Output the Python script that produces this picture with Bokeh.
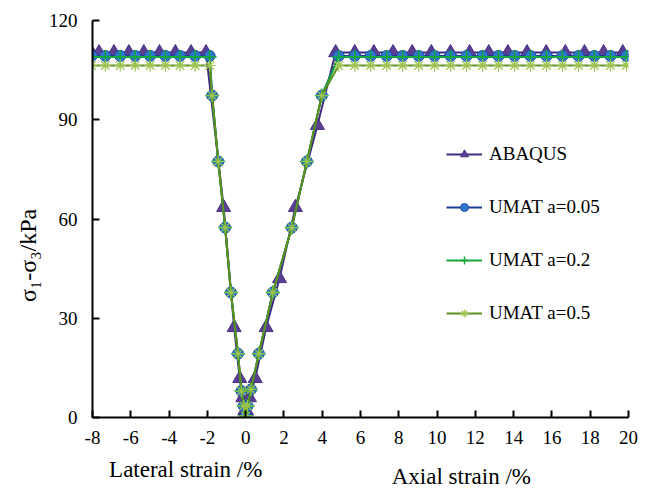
import math
from bokeh.plotting import figure
from bokeh.models import Range1d, Legend, LegendItem, FixedTicker
from bokeh.layouts import column, row
from bokeh.core.properties import value
from bokeh.embed import file_html
from bokeh.resources import INLINE

# ---- data ----
x_abaqus = [-8.05, -7.66, -6.88, -6.10, -5.32, -4.50, -3.67, -2.85, -2.07,
            -1.15, -0.60, -0.31, -0.15, -0.05, 0.0, 0.05, 0.20, 0.50, 1.07,
            1.77, 2.60, 3.75,
            4.7, 5.7, 6.7, 7.7, 8.7, 9.7, 10.7, 11.7, 12.7, 13.7, 14.7, 15.7,
            16.7, 17.7, 18.7, 19.7]
y_abaqus = [110.3] * 9 + [63.5, 27.2, 11.8, 6.0, 2.0, 0.0, 2.0, 6.0, 11.8, 27.2,
                          42.0, 63.5, 88.3] + [110.3] * 16

x_umat = [-8.05, -7.33, -6.55, -5.77, -4.99, -4.19, -3.43, -2.64, -1.88,
          -1.75, -1.43, -1.07, -0.77, -0.40, -0.22, -0.10, 0.0, 0.10, 0.28,
          0.69, 1.42, 2.41, 3.20, 3.98,
          4.86, 5.70, 6.53, 7.37, 8.20, 9.04, 9.87, 10.71, 11.54, 12.38, 13.21,
          14.05, 14.88, 15.72, 16.55, 17.39, 18.22, 19.06, 19.89]
ramp = [97.3, 77.4, 57.4, 37.8, 19.3, 8.0, 3.5, 0.5, 3.5, 8.5, 19.3, 37.8,
        57.4, 77.4, 97.3]
y_a005 = [109.3] * 9 + ramp + [109.3] * 19
y_a02 = [109.0] * 9 + ramp + [109.0] * 19
y_a05 = [106.4] * 9 + ramp + [106.4] * 19

series_labels = ["ABAQUS", "UMAT a=0.05", "UMAT a=0.2", "UMAT a=0.5"]
x_ticks = list(range(-8, 21, 2))
y_ticks = [0, 30, 60, 90, 120]
x_titles = ["Lateral strain /%", "Axial strain /%"]
x_title_pos = [-3.13, 11.27]
y_title = "σ₁-σ₃/kPa"
y_title_pos = 49.0

FONT = "Liberation Serif"
LEFT_W = 45

p = figure(width=638 - LEFT_W, height=454, output_backend="svg",
           toolbar_location=None,
           x_range=Range1d(-8, 20), y_range=Range1d(0, 120),
           min_border_left=90 - LEFT_W, min_border_right=10, min_border_top=20,
           min_border_bottom=37)
p.outline_line_color = None
p.xgrid.visible = False
p.ygrid.visible = False

for ax in (p.xaxis[0], p.yaxis[0]):
    ax.axis_line_color = "black"
    ax.axis_line_width = 2
    ax.major_tick_line_color = "black"
    ax.major_tick_line_width = 2
    ax.major_tick_in = 7
    ax.major_tick_out = 0
    ax.minor_tick_line_color = None
    ax.major_label_text_font = FONT
    ax.major_label_text_font_size = "19px"
    ax.major_label_text_color = "black"

p.xaxis.major_label_standoff = 13
p.yaxis.major_label_standoff = 15
p.xaxis.ticker = FixedTicker(ticks=x_ticks)
p.yaxis.ticker = FixedTicker(ticks=y_ticks)
p.xaxis.major_label_overrides = {t: str(t) for t in x_ticks}

# ---- series ----
l1 = p.line(x_abaqus, y_abaqus, line_color="#3E2A80", line_width=2)
m1 = p.scatter(x_abaqus, y_abaqus, marker="triangle", size=14,
               fill_color="#5B3E92", line_color="#4A2F85")
l2 = p.line(x_umat, y_a005, line_color="#1B3C94", line_width=2)
m2 = p.scatter(x_umat, y_a005, marker="circle", size=11,
               fill_color="#2E78CC", line_color="#1F4FA8")
l3 = p.line(x_umat, y_a02, line_color="#12A83C", line_width=2)
m3 = p.scatter(x_umat, y_a02, marker="cross", size=14,
               line_color="#12A83C", line_width=1.5)
l4 = p.line(x_umat, y_a05, line_color="#5E8F1F", line_width=2)
m4 = p.scatter(x_umat, y_a05, marker="asterisk", size=12,
               line_color="#9CC54A", line_width=1.2)

legend = Legend(items=[
    LegendItem(label=series_labels[0], renderers=[l1, m1]),
    LegendItem(label=series_labels[1], renderers=[l2, m2]),
    LegendItem(label=series_labels[2], renderers=[l3, m3]),
    LegendItem(label=series_labels[3], renderers=[l4, m4]),
], location=(354, 93), orientation="vertical")
legend.background_fill_alpha = 0
legend.border_line_color = None
legend.padding = 0
legend.margin = 0
legend.spacing = 31
legend.glyph_width = 36
legend.glyph_height = 20
legend.label_standoff = 7
legend.label_text_font = FONT
legend.label_text_font_size = "19px"
legend.label_text_color = "black"
p.add_layout(legend, "center")

# ---- strip left for the y-axis title (shares the y scale) ----
pl = figure(width=LEFT_W, height=454, output_backend="svg", toolbar_location=None,
            x_range=Range1d(0, LEFT_W), y_range=p.y_range,
            min_border_left=0, min_border_right=0, min_border_top=20,
            min_border_bottom=37)
pl.axis.visible = False
pl.grid.visible = False
pl.outline_line_color = None
pl.text(x=[27], y=[y_title_pos], text=[y_title], angle=math.pi / 2,
        text_font=value(FONT), text_font_size="24px", text_align="center",
        text_baseline="middle", text_color="black")

# ---- strip below for the two x-axis titles (shares the x scale) ----
p2 = figure(width=638 - LEFT_W, height=34, output_backend="svg",
            toolbar_location=None, x_range=p.x_range, y_range=Range1d(0, 34),
            min_border_left=90 - LEFT_W, min_border_right=10, min_border_top=0,
            min_border_bottom=0)
p2.axis.visible = False
p2.grid.visible = False
p2.outline_line_color = None
p2.text(x=x_title_pos, y=[19, 12], text=x_titles, text_font=value(FONT),
        text_font_size="23px", text_align="center", text_baseline="middle",
        text_color="black")

layout = row(pl, column(p, p2, spacing=0), spacing=0)
open("out.html", "w").write(file_html(layout, INLINE))
